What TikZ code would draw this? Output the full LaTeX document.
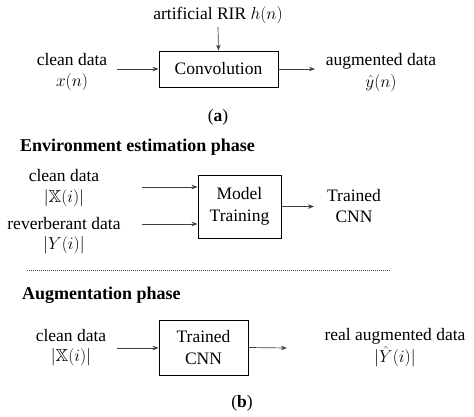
\documentclass[tikz,border=0pt]{standalone}
\usepackage{amssymb}
\usepackage{fontspec}
\setmainfont{Liberation Serif}
\usetikzlibrary{arrows.meta}
\begin{document}
\begin{tikzpicture}[x=1pt,y=-1pt,
 txt/.style={font=\fontsize{17.5}{20.5}\selectfont, align=center, inner sep=0pt},
 hdr/.style={font=\fontsize{18}{21}\selectfont\bfseries, inner sep=0pt, anchor=west},
 blk/.style={draw=black, line width=0.9pt, font=\fontsize{17.5}{22}\selectfont, align=center, inner sep=0pt},
 arr/.style={draw=black!75, line width=0.7pt, -{Stealth[length=6pt,width=4.5pt]}}]
\useasboundingbox (0,0) rectangle (474,417);
% (a)
\node[blk, minimum width=119pt, minimum height=36pt] (conv) at (218.5,69) {Convolution};
\node[txt] (rir) at (218,15) {artificial RIR $h(n)$};
\node[txt] (cd1) at (72,72) {clean data\\$x(n)$};
\node[txt] (aug) at (381,72.5) {augmented data\\[1.5pt]$\hat{y}(n)$};
\node[txt] (capa) at (218,117) {(\textbf{a})};
\coordinate (s0) at (218,27);
\coordinate (s1) at (117,69);
\coordinate (e1) at (315,69);
\draw[arr] (s0) -- (conv.north);
\draw[arr] (s1) -- (conv.west);
\draw[arr] (conv.east) -- (e1);
% (b) environment estimation
\node[hdr] (h1) at (20,147) {Environment estimation phase};
\node[blk, minimum width=83pt, minimum height=63pt] (model) at (239.5,206.5) {Model\\Training};
\node[txt] (cd2) at (64,188) {clean data\\$|\mathbb{X}(i)|$};
\node[txt] (rd) at (64,235.5) {reverberant data\\$|Y(i)|$};
\node[txt] (tc) at (354,206) {Trained\\CNN};
\coordinate (s2) at (142,187);
\coordinate (s3) at (142,224);
\coordinate (e2) at (314,206.5);
\draw[arr] (s2) -- (s2 -| model.west);
\draw[arr] (s3) -- (s3 -| model.west);
\draw[arr] (model.east) -- (e2);
% separator
\coordinate (d1) at (27,270);
\coordinate (d2) at (390,270);
\draw[black!70, line width=0.5pt, dash pattern=on 1pt off 1pt] (d1) -- (d2);
% augmentation
\node[hdr] (h2) at (22,295) {Augmentation phase};
\node[blk, minimum width=89pt, minimum height=55pt] (tr) at (203.5,347.5) {Trained\\CNN};
\node[txt] (cd3) at (71,347.5) {clean data\\$|\mathbb{X}(i)|$};
\node[txt] (rad) at (395,348) {real augmented data\\[1.5pt]$|\hat{Y}(i)|$};
\node[txt] (capb) at (242,403) {(\textbf{b})};
\coordinate (s4) at (117,348);
\coordinate (e4) at (287,348);
\draw[arr] (s4) -- (s4 -| tr.west);
\draw[arr] (tr.east) -- (e4);
\end{tikzpicture}
\end{document}
